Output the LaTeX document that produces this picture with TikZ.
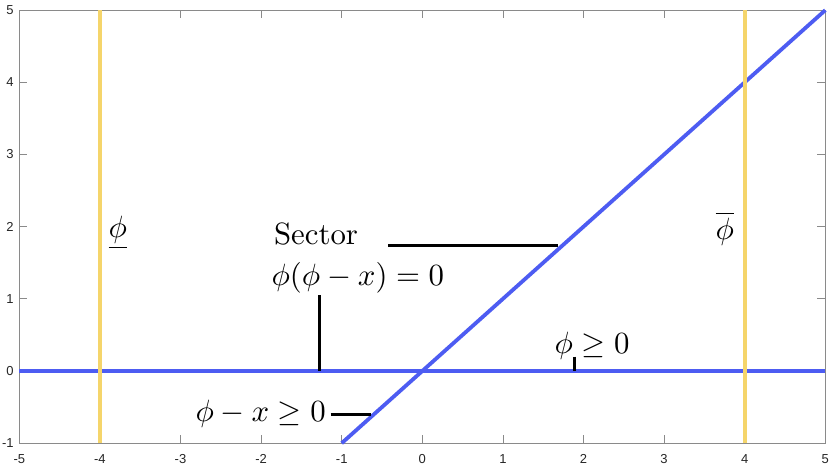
\documentclass[tikz,border=0pt]{standalone}
\usepackage{fontspec}
\newfontfamily\tickfont{Liberation Sans}
\definecolor{lineblue}{HTML}{4D5CF2}
\definecolor{lineyellow}{HTML}{F5D56B}
\definecolor{axisgray}{HTML}{8A8A8A}
\definecolor{ticktext}{HTML}{262626}
\tikzset{
  blueline/.style={lineblue, line width=3.8pt},
  yellowline/.style={lineyellow, line width=3.6pt},
  leader/.style={black, line width=2.6pt},
  axisbox/.style={axisgray, line width=0.9pt},
  tickmark/.style={axisgray, line width=0.8pt},
  ticklabel/.style={text=ticktext, font=\tickfont\fontsize{13}{15}\selectfont, inner sep=0pt},
  mathlabel/.style={font=\normalsize, scale=3.08, inner sep=0pt, anchor=base west}
}
\begin{document}
\begin{tikzpicture}[x=1pt,y=1pt]
\useasboundingbox (0,0) rectangle (830,-467);
\fill[white] (0,0) rectangle (830,-467);
\begin{scope}[shift={(422.3,-371)}, x=80.6pt, y=72.17pt]
  % axes box
  \draw[axisbox] (-5,-1) rectangle (5,5);
  \foreach \i in {-5,...,5} {
    \draw[tickmark] (\i,-1) -- ++(0,8pt);
    \draw[tickmark] (\i,5) -- ++(0,-8pt);
    \node[ticklabel] (xl\i) at ([yshift=-16pt]\i,-1) {\i};
  }
  \foreach \j in {-1,...,5} {
    \draw[tickmark] (-5,\j) -- ++(8pt,0);
    \draw[tickmark] (5,\j) -- ++(-8pt,0);
    \node[ticklabel, anchor=east] (yl\j) at ([xshift=-5.5pt]-5,\j) {\j};
  }
  % data lines
  \coordinate (h1) at (-5,0);
  \coordinate (h2) at (5,0);
  \coordinate (d1) at (-1,-1);
  \coordinate (d2) at (5,5);
  \coordinate (ylo1) at (-4,-1);
  \coordinate (yhi1) at (-4,5);
  \coordinate (ylo2) at (4,-1);
  \coordinate (yhi2) at (4,5);
  \draw[blueline] (h1) -- (h2);
  \draw[blueline] (d1) -- (d2);
  \draw[yellowline] (ylo1) -- (yhi1);
  \draw[yellowline] (ylo2) -- (yhi2);
\end{scope}
% labels
\node[mathlabel] (sector) at (273.5,-244) {Sector};
\node[mathlabel] (comp) at (271,-285) {$\phi(\phi-x)=0$};
\node[mathlabel] (phix) at (195,-421.5) {$\phi-x\geq 0$};
\node[mathlabel] (phipos) at (554,-353) {$\phi\geq 0$};
\node[mathlabel] (lower) at (108,-237.5) {$\underline{\phi}$};
\node[mathlabel] (upper) at (715,-239) {$\overline{\phi}$};
% leader lines
\coordinate (s1) at (388,-245.7);
\coordinate (s2) at (558,-245.7);
\coordinate (c1) at (319.3,-295);
\coordinate (c2) at (319.3,-371);
\coordinate (p1) at (330.7,-414.3);
\coordinate (p2) at (370.7,-414.3);
\coordinate (q1) at (574.3,-356.7);
\coordinate (q2) at (574.3,-371);
\draw[leader] (s1) -- (s2);
\draw[leader] (c1) -- (c2);
\draw[leader] (p1) -- (p2);
\draw[leader] (q1) -- (q2);
\end{tikzpicture}
\end{document}
